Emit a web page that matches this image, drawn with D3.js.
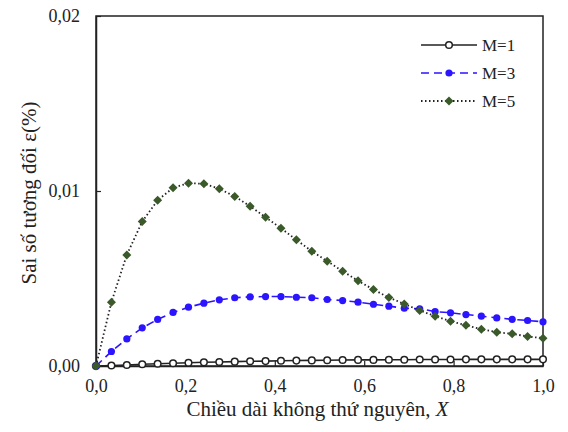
<!DOCTYPE html>
<html>
<head>
<meta charset="utf-8">
<script src="https://cdn.jsdelivr.net/npm/d3@7"></script>
<style>
	body { margin: 0; background: #fff; }
</style>
</head>
<body>
<div id="main"></div>
<script>
// 30 points, X = i/29
const xValues = d3.range(30).map((i) => i / 29);

const m1 = [0, 0.00003, 0.00006, 0.0001, 0.00013, 0.00016, 0.00019, 0.00021, 0.00023, 0.00025,
	0.00027, 0.00028, 0.0003, 0.00031, 0.00032, 0.00033, 0.00034, 0.00035, 0.00035, 0.00036,
	0.00036, 0.00037, 0.00037, 0.00037, 0.00038, 0.00038, 0.00038, 0.00038, 0.00038, 0.00038];
const m3 = [0, 0.00083, 0.00155, 0.00218, 0.00266, 0.00306, 0.00336, 0.00359, 0.00378, 0.0039,
	0.00395, 0.00397, 0.00397, 0.00393, 0.0039, 0.0038, 0.00374, 0.00365, 0.00353, 0.00342,
	0.0033, 0.00327, 0.00311, 0.00304, 0.00294, 0.00285, 0.00275, 0.00267, 0.0026, 0.00253];
const m5 = [0, 0.00365, 0.00635, 0.00826, 0.00947, 0.01018, 0.01045, 0.01041, 0.01013, 0.00969,
	0.00913, 0.0085, 0.00787, 0.00721, 0.00656, 0.00599, 0.00542, 0.00487, 0.00437, 0.00391,
	0.00355, 0.00317, 0.00285, 0.00256, 0.00233, 0.0021, 0.00193, 0.00184, 0.00169, 0.00159];

const seriesNames = ["M=1", "M=3", "M=5"];
const xTicks = [0, 0.2, 0.4, 0.6, 0.8, 1.0];
const yTicks = [0, 0.01, 0.02];

const W = 568, H = 432;
const pad = { left: 96, right: 25, top: 16, bottom: 66 };
const FONT = "Liberation Serif";

const svg = d3.select("#main").append("svg").attr("width", W).attr("height", H)
	.attr("font-family", FONT);

const x = d3.scaleLinear().domain([0, 1]).range([pad.left, W - pad.right]);
const y = d3.scaleLinear().domain([0, 0.02]).range([H - pad.bottom, pad.top]);

const comma = (digits) => (d) => d.toFixed(digits).replace(".", ",");

// frame
svg.append("rect")
	.attr("x", x(0)).attr("y", y(0.02))
	.attr("width", x(1) - x(0)).attr("height", y(0) - y(0.02))
	.attr("fill", "none").attr("stroke", "#222").attr("stroke-width", 1.5);

const xAxis = svg.append("g")
	.attr("transform", `translate(0,${y(0)})`)
	.call(d3.axisBottom(x).tickValues(xTicks).tickSizeInner(-5).tickSizeOuter(0).tickPadding(13).tickFormat(comma(1)));
const yAxis = svg.append("g")
	.attr("transform", `translate(${x(0)},0)`)
	.call(d3.axisLeft(y).tickValues(yTicks).tickSizeInner(-5).tickSizeOuter(0).tickPadding(16).tickFormat(comma(2)));
[xAxis, yAxis].forEach((a) => {
	a.attr("font-family", FONT);
	a.select(".domain").attr("stroke", "#222").attr("stroke-width", 1.5);
	a.selectAll(".tick line").attr("stroke", "#222").attr("stroke-width", 1.2);
	a.selectAll(".tick text").attr("font-family", FONT).attr("font-size", 18).attr("fill", "#222");
});

// axis titles
const xt = svg.append("text")
	.attr("x", (x(0) + x(1)) / 2 - 2).attr("y", 416)
	.attr("text-anchor", "middle").attr("font-size", 21)
	.attr("font-family", FONT).attr("fill", "#222");
xt.append("tspan").text("Chiều dài không thứ nguyên, ");
xt.append("tspan").attr("font-style", "italic").text("X");

svg.append("text")
	.attr("transform", `translate(36,${(y(0) + y(0.02)) / 2 + 2}) rotate(-90)`)
	.attr("text-anchor", "middle").attr("font-size", 21)
	.attr("font-family", FONT).attr("fill", "#222")
	.text("Sai số tương đối ε(%)");

const line = d3.line().x((d, i) => x(xValues[i])).y((d) => y(d));

const styles = [
	{ data: m1, stroke: "#222", dash: null, width: 1.6, marker: "circle", fill: "#fff", mstroke: "#222" },
	{ data: m3, stroke: "#2b14ff", dash: "8,5", width: 1.6, marker: "dot", fill: "#2b14ff", mstroke: "#2b14ff" },
	{ data: m5, stroke: "#222", dash: "1.5,2.5", width: 1.8, marker: "diamond", fill: "#3b5a2a", mstroke: "#3b5a2a" },
];

const drawMarker = (g, s, cx, cy) => {
	if (s.marker === "diamond") {
		g.append("path")
			.attr("d", `M${cx},${cy - 4.5}L${cx + 4.5},${cy}L${cx},${cy + 4.5}L${cx - 4.5},${cy}Z`)
			.attr("fill", s.fill);
	} else if (s.marker === "circle") {
		g.append("circle").attr("cx", cx).attr("cy", cy).attr("r", 3.3)
			.attr("fill", s.fill).attr("stroke", s.mstroke).attr("stroke-width", 1.5);
	} else {
		g.append("circle").attr("cx", cx).attr("cy", cy).attr("r", 3.6).attr("fill", s.fill);
	}
};

styles.forEach((s) => {
	const g = svg.append("g");
	g.append("path").attr("d", line(s.data))
		.attr("fill", "none").attr("stroke", s.stroke).attr("stroke-width", s.width)
		.attr("stroke-dasharray", s.dash);
	s.data.forEach((d, i) => drawMarker(g, s, x(xValues[i]), y(d)));
});

// legend
const legend = svg.append("g");
styles.forEach((s, i) => {
	const ly = 45 + i * 28;
	legend.append("line").attr("x1", 421).attr("x2", 477).attr("y1", ly).attr("y2", ly)
		.attr("stroke", s.stroke).attr("stroke-width", s.width).attr("stroke-dasharray", s.dash);
	drawMarker(legend, s, 449, ly);
	legend.append("text").attr("x", 482).attr("y", ly).attr("dy", "0.35em")
		.attr("font-size", 17).attr("font-family", FONT).attr("fill", "#222")
		.text(seriesNames[i]);
});
</script>
</body>
</html>
